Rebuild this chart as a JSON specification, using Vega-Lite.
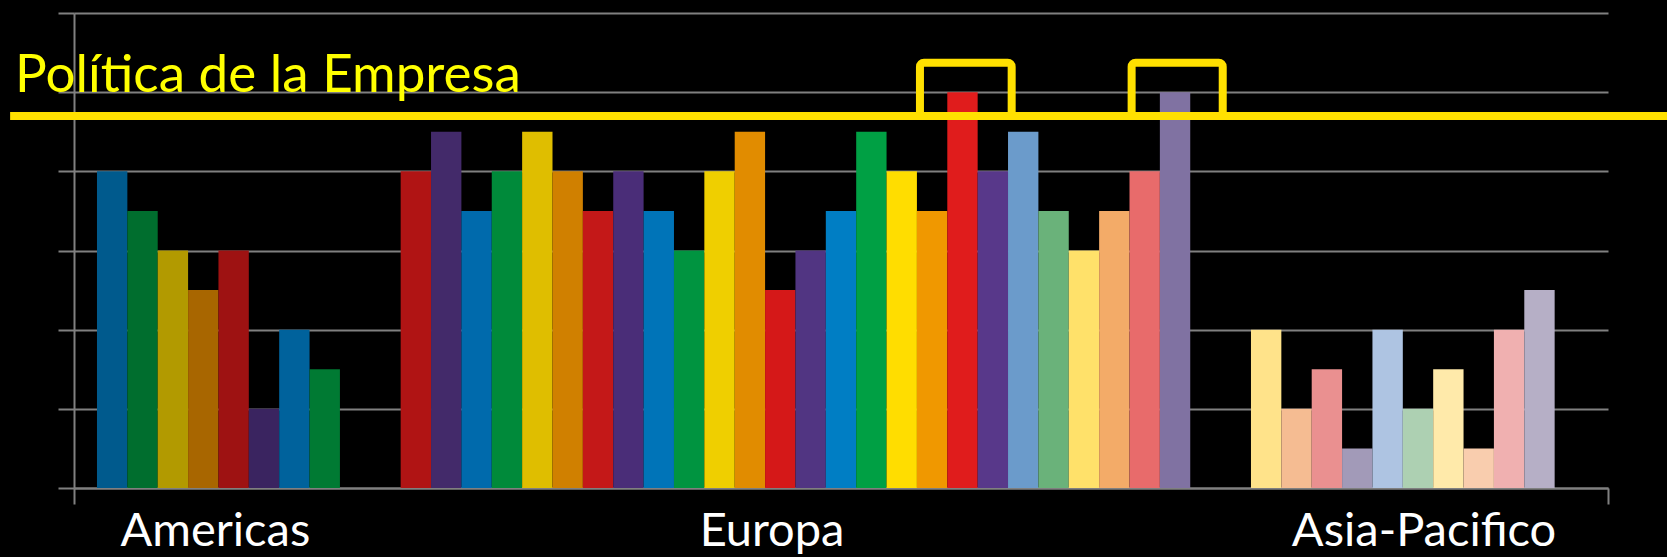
{
  "$schema": "https://vega.github.io/schema/vega-lite/v6.json",
  "width": 1534,
  "height": 475,
  "autosize": {"type": "none"},
  "padding": {"left": 74, "top": 13, "right": 59, "bottom": 69},
  "background": "#000000",
  "config": {"view": {"stroke": null}},
  "datasets": {
    "barras": [
      {"region": "Americas", "id": "A1", "slot": 0, "valor": 4},
      {"region": "Americas", "id": "A2", "slot": 1, "valor": 3.5},
      {"region": "Americas", "id": "A3", "slot": 2, "valor": 3},
      {"region": "Americas", "id": "A4", "slot": 3, "valor": 2.5},
      {"region": "Americas", "id": "A5", "slot": 4, "valor": 3},
      {"region": "Americas", "id": "A6", "slot": 5, "valor": 1},
      {"region": "Americas", "id": "A7", "slot": 6, "valor": 2},
      {"region": "Americas", "id": "A8", "slot": 7, "valor": 1.5},
      {"region": "Europa", "id": "E1", "slot": 10, "valor": 4},
      {"region": "Europa", "id": "E2", "slot": 11, "valor": 4.5},
      {"region": "Europa", "id": "E3", "slot": 12, "valor": 3.5},
      {"region": "Europa", "id": "E4", "slot": 13, "valor": 4},
      {"region": "Europa", "id": "E5", "slot": 14, "valor": 4.5},
      {"region": "Europa", "id": "E6", "slot": 15, "valor": 4},
      {"region": "Europa", "id": "E7", "slot": 16, "valor": 3.5},
      {"region": "Europa", "id": "E8", "slot": 17, "valor": 4},
      {"region": "Europa", "id": "E9", "slot": 18, "valor": 3.5},
      {"region": "Europa", "id": "E10", "slot": 19, "valor": 3},
      {"region": "Europa", "id": "E11", "slot": 20, "valor": 4},
      {"region": "Europa", "id": "E12", "slot": 21, "valor": 4.5},
      {"region": "Europa", "id": "E13", "slot": 22, "valor": 2.5},
      {"region": "Europa", "id": "E14", "slot": 23, "valor": 3},
      {"region": "Europa", "id": "E15", "slot": 24, "valor": 3.5},
      {"region": "Europa", "id": "E16", "slot": 25, "valor": 4.5},
      {"region": "Europa", "id": "E17", "slot": 26, "valor": 4},
      {"region": "Europa", "id": "E18", "slot": 27, "valor": 3.5},
      {"region": "Europa", "id": "E19", "slot": 28, "valor": 5},
      {"region": "Europa", "id": "E20", "slot": 29, "valor": 4},
      {"region": "Europa", "id": "E21", "slot": 30, "valor": 4.5},
      {"region": "Europa", "id": "E22", "slot": 31, "valor": 3.5},
      {"region": "Europa", "id": "E23", "slot": 32, "valor": 3},
      {"region": "Europa", "id": "E24", "slot": 33, "valor": 3.5},
      {"region": "Europa", "id": "E25", "slot": 34, "valor": 4},
      {"region": "Europa", "id": "E26", "slot": 35, "valor": 5},
      {"region": "Asia-Pacifico", "id": "P1", "slot": 38, "valor": 2},
      {"region": "Asia-Pacifico", "id": "P2", "slot": 39, "valor": 1},
      {"region": "Asia-Pacifico", "id": "P3", "slot": 40, "valor": 1.5},
      {"region": "Asia-Pacifico", "id": "P4", "slot": 41, "valor": 0.5},
      {"region": "Asia-Pacifico", "id": "P5", "slot": 42, "valor": 2},
      {"region": "Asia-Pacifico", "id": "P6", "slot": 43, "valor": 1},
      {"region": "Asia-Pacifico", "id": "P7", "slot": 44, "valor": 1.5},
      {"region": "Asia-Pacifico", "id": "P8", "slot": 45, "valor": 0.5},
      {"region": "Asia-Pacifico", "id": "P9", "slot": 46, "valor": 2},
      {"region": "Asia-Pacifico", "id": "P10", "slot": 47, "valor": 2.5}
    ],
    "politica": [{"nivel": 4.7, "texto": "Política de la Empresa"}],
    "cajas": [
      {"desde": 27.1, "hasta": 30.12, "base": 4.7, "tope": 5.372},
      {"desde": 34.07, "hasta": 37.07, "base": 4.7, "tope": 5.372}
    ],
    "etiquetas": [
      {"region": "Americas", "centro": 3.9},
      {"region": "Europa", "centro": 22.23},
      {"region": "Asia-Pacifico", "centro": 43.7}
    ]
  },
  "layer": [
    {
      "data": {"name": "barras"},
      "mark": {"type": "bar"},
      "encoding": {
        "x": {
          "field": "slot",
          "type": "ordinal",
          "scale": {
            "domain": [0,1,2,3,4,5,6,7,8,9,10,11,12,13,14,15,16,17,18,19,20,21,22,23,24,25,26,27,28,29,30,31,32,33,34,35,36,37,38,39,40,41,42,43,44,45,46,47,48],
            "paddingInner": 0,
            "paddingOuter": 0.7566
          },
          "axis": null
        },
        "y": {
          "field": "valor",
          "type": "quantitative",
          "scale": {"domain": [0, 6], "nice": false},
          "axis": {
            "values": [0, 1, 2, 3, 4, 5, 6],
            "labels": false,
            "title": null,
            "tickSize": 16,
            "tickColor": "#808080",
            "tickWidth": 2,
            "domainColor": "#808080",
            "domainWidth": 2,
            "grid": true,
            "gridColor": "#808080",
            "gridWidth": 2
          }
        },
        "color": {
          "field": "id",
          "type": "nominal",
          "legend": null,
          "scale": {
            "domain": ["A1","A2","A3","A4","A5","A6","A7","A8","E1","E2","E3","E4","E5","E6","E7","E8","E9","E10","E11","E12","E13","E14","E15","E16","E17","E18","E19","E20","E21","E22","E23","E24","E25","E26","P1","P2","P3","P4","P5","P6","P7","P8","P9","P10"],
            "range": ["#005A8D","#006E2E","#B29A00","#A86600","#9E1212","#3A2460","#00629C","#007A33",
                      "#B01414","#432A6A","#006AAC","#008A3A","#DFBE00","#D08000","#C41818","#4A2D78","#0074B8","#009440","#EFCF00","#E18C00","#D51818","#513582","#007EC4","#00A044","#FFDD00","#F09800","#E01C1C","#58388A","#6B9BCB","#6AB27A","#FFE16A","#F3AB68","#E86B6B","#8072A2",
                      "#FFE38A","#F5BC92","#EA9090","#A29AB8","#AEC4E2","#ADD0B2","#FFEAAA","#F9CDAE","#F0B0B0","#B6AFC6"]
          }
        }
      }
    },
    {
      "layer": [
        {
          "data": {"name": "politica"},
          "mark": {"type": "rule", "color": "#FFE000", "strokeWidth": 8},
          "encoding": {
            "x": {
              "datum": -2.86,
              "type": "quantitative",
              "scale": {"domain": [-0.7566, 49.7566], "nice": false, "zero": false},
              "axis": {
                "values": [-0.756, 49.756],
                "labels": false,
                "title": null,
                "grid": false,
                "tickSize": 16,
                "tickColor": "#808080",
                "tickWidth": 2,
                "domainColor": "#808080",
                "domainWidth": 2
              }
            },
            "x2": {"datum": 51.8},
            "y": {"field": "nivel", "type": "quantitative", "scale": {"domain": [0, 6], "nice": false}, "axis": null}
          }
        },
        {
          "data": {"name": "cajas"},
          "mark": {"type": "rect", "filled": false, "color": "#FFE000", "strokeWidth": 8, "cornerRadius": 4},
          "encoding": {
            "x": {"field": "desde", "type": "quantitative", "scale": {"domain": [-0.7566, 49.7566], "nice": false, "zero": false}},
            "x2": {"field": "hasta"},
            "y": {"field": "base", "type": "quantitative", "scale": {"domain": [0, 6], "nice": false}, "axis": null},
            "y2": {"field": "tope"}
          }
        },
        {
          "data": {"name": "politica"},
          "mark": {"type": "text", "align": "left", "baseline": "alphabetic", "font": "Lato", "fontSize": 53, "color": "#FFFF00"},
          "encoding": {
            "x": {"datum": -2.7, "type": "quantitative", "scale": {"domain": [-0.7566, 49.7566], "nice": false, "zero": false}},
            "y": {"datum": 5.0, "type": "quantitative", "scale": {"domain": [0, 6], "nice": false}, "axis": null},
            "text": {"field": "texto"}
          }
        },
        {
          "data": {"name": "etiquetas"},
          "mark": {"type": "text", "align": "center", "baseline": "alphabetic", "font": "Lato", "fontSize": 47, "color": "#FFFFFF"},
          "encoding": {
            "x": {"field": "centro", "type": "quantitative", "scale": {"domain": [-0.7566, 49.7566], "nice": false, "zero": false}},
            "y": {"datum": -0.733, "type": "quantitative", "scale": {"domain": [0, 6], "nice": false}, "axis": null},
            "text": {"field": "region"}
          }
        }
      ]
    }
  ],
  "resolve": {
    "scale": {"x": "independent", "color": "independent"},
    "axis": {"x": "independent", "y": "independent"}
  }
}
